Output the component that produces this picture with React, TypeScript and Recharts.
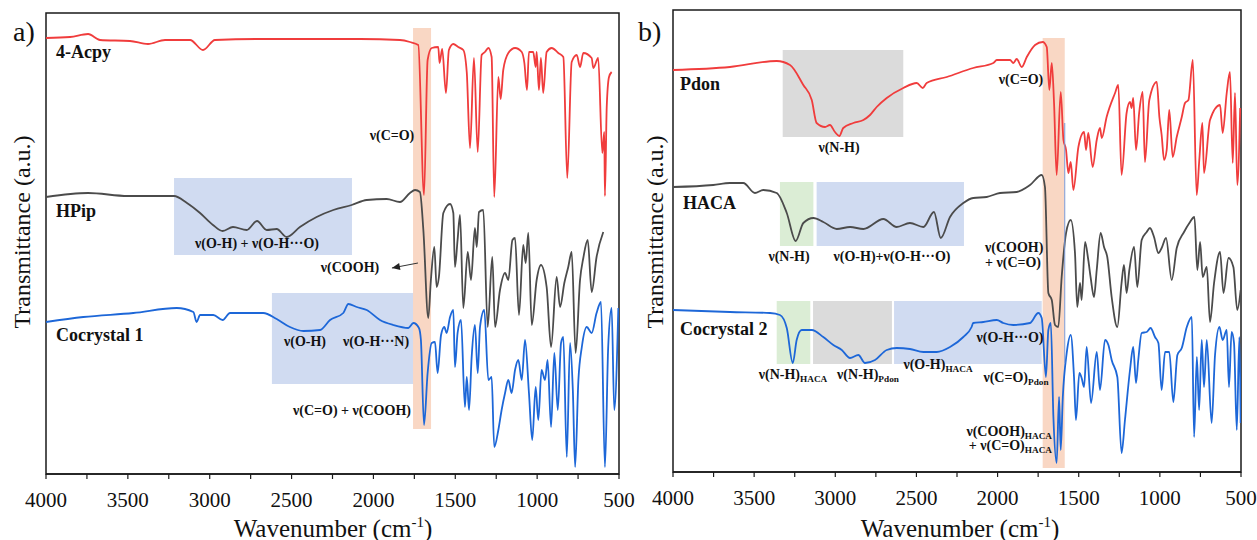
import React from 'react'
import { LineChart, Line, XAxis, YAxis, ReferenceArea, ReferenceLine } from 'recharts'

// [wavenumber (cm-1), transmittance (a.u.)]
const acpy: [number, number][] = [
  [4000, 436], [3853, 437], [3743, 440], [3670, 434], [3487, 433], [3377, 430], [3273, 434],
  [3120, 434], [3041, 424], [2968, 434], [2693, 435], [2387, 435], [2082, 435], [1838, 434],
  [1777, 432], [1726, 429], [1691, 279], [1669, 414], [1644, 426], [1604, 427], [1596, 411],
  [1580, 425], [1557, 381], [1539, 424], [1512, 430], [1482, 427], [1451, 424], [1430, 402],
  [1410, 326], [1386, 416], [1363, 322], [1339, 419], [1319, 422], [1298, 426], [1278, 417],
  [1262, 277], [1237, 397], [1223, 375], [1207, 404], [1176, 421], [1135, 426], [1094, 422],
  [1078, 411], [1062, 384], [1050, 422], [1024, 422], [1009, 407], [1003, 422], [989, 384],
  [977, 416], [963, 381], [942, 422], [911, 426], [871, 421], [840, 417], [816, 296], [789, 412],
  [758, 419], [738, 407], [718, 421], [667, 416], [657, 406], [627, 416], [602, 321], [590, 342],
  [586, 278], [575, 367], [561, 397], [545, 402],
]

const hpip: [number, number][] = [
  [4000, 277], [3743, 281], [3500, 278], [3218, 278], [3139, 271], [3059, 261], [2980, 249],
  [2921, 243], [2858, 247], [2774, 244], [2711, 253], [2652, 244], [2591, 245], [2530, 237],
  [2449, 247], [2347, 257], [2245, 264], [2133, 269], [2041, 274], [1919, 275], [1838, 272],
  [1777, 281], [1746, 284], [1716, 282], [1695, 244], [1665, 156], [1649, 194], [1628, 227],
  [1614, 187], [1600, 197], [1573, 261], [1532, 270], [1512, 261], [1502, 207], [1486, 234],
  [1471, 259], [1451, 166], [1424, 222], [1404, 194], [1380, 246], [1369, 227], [1355, 262],
  [1329, 264], [1302, 147], [1274, 217], [1257, 147], [1227, 184], [1196, 201], [1176, 194],
  [1151, 234], [1135, 236], [1111, 159], [1085, 229], [1070, 211], [1054, 241], [1033, 149],
  [1003, 194], [977, 209], [942, 187], [915, 127], [881, 197], [860, 167], [834, 191], [810, 207],
  [789, 222], [765, 121], [738, 194], [718, 216], [691, 234], [667, 182], [637, 217], [596, 242],
]

const cocrystal1: [number, number][] = [
  [4000, 152], [3772, 157], [3467, 161], [3202, 166], [3100, 162], [3080, 152], [3059, 159],
  [2978, 159], [2921, 154], [2876, 161], [2673, 161], [2591, 155], [2510, 147], [2428, 143],
  [2326, 144], [2265, 154], [2184, 161], [2153, 170], [2102, 167], [2041, 164], [1960, 154],
  [1879, 149], [1787, 146], [1756, 151], [1722, 146], [1710, 134], [1691, 49], [1669, 101],
  [1644, 131], [1624, 132], [1608, 101], [1587, 139], [1567, 147], [1553, 141], [1532, 157],
  [1512, 164], [1502, 107], [1486, 141], [1465, 154], [1441, 67], [1430, 97], [1416, 64],
  [1400, 117], [1380, 149], [1363, 101], [1349, 147], [1323, 164], [1298, 94], [1278, 97],
  [1262, 27], [1237, 44], [1217, 64], [1196, 81], [1176, 94], [1156, 81], [1135, 104], [1115, 114],
  [1094, 94], [1074, 134], [1050, 81], [1030, 34], [1009, 87], [993, 54], [973, 104], [952, 94],
  [936, 114], [915, 47], [895, 121], [874, 64], [854, 131], [840, 137], [819, 17], [799, 131],
  [782, 84], [768, 7], [748, 94], [727, 127], [697, 147], [667, 141], [637, 161], [610, 172],
  [586, 7], [566, 127], [545, 166], [529, 64], [504, 166],
]

const pdon: [number, number][] = [
  [4000, 402], [3649, 405], [3361, 411], [3279, 407], [3197, 387], [3145, 372], [3115, 349],
  [3063, 345], [3033, 347], [3002, 340], [2975, 336], [2951, 344], [2889, 349], [2827, 352],
  [2786, 357], [2745, 365], [2683, 374], [2581, 384], [2498, 389], [2461, 384], [2437, 389],
  [2313, 395], [2150, 404], [2026, 409], [2005, 412], [1923, 412], [1903, 409], [1882, 413],
  [1851, 405], [1820, 415], [1769, 427], [1722, 430], [1697, 425], [1681, 382], [1666, 409],
  [1652, 369], [1636, 297], [1611, 380], [1594, 332], [1578, 322], [1564, 299], [1549, 310],
  [1533, 282], [1502, 325], [1467, 340], [1455, 322], [1441, 339], [1414, 305], [1389, 332],
  [1369, 344], [1358, 334], [1328, 355], [1276, 379], [1256, 387], [1236, 297], [1205, 359],
  [1184, 370], [1174, 364], [1164, 374], [1147, 322], [1127, 360], [1106, 380], [1092, 310],
  [1065, 372], [1019, 390], [1003, 355], [989, 337], [974, 312], [958, 322], [942, 362],
  [921, 315], [896, 335], [865, 355], [845, 369], [824, 372], [797, 412], [773, 277], [757, 312],
  [738, 349], [728, 299], [691, 352], [629, 367], [613, 339], [588, 379], [568, 400], [551, 309],
  [537, 379], [523, 287], [505, 364],
]

const haca: [number, number][] = [
  [4000, 285], [3752, 287], [3649, 289], [3567, 289], [3495, 279], [3444, 282], [3361, 279],
  [3299, 259], [3244, 231], [3197, 249], [3135, 254], [3074, 250], [2991, 243], [2909, 245],
  [2827, 243], [2704, 253], [2622, 245], [2540, 249], [2457, 245], [2392, 260], [2350, 234],
  [2293, 255], [2211, 269], [2150, 274], [2067, 275], [1985, 279], [1882, 280], [1800, 287],
  [1728, 297], [1708, 285], [1687, 179], [1666, 172], [1646, 147], [1626, 145], [1605, 195],
  [1578, 239], [1549, 252], [1523, 219], [1509, 165], [1492, 189], [1482, 172], [1461, 230],
  [1441, 212], [1426, 194], [1406, 175], [1389, 202], [1365, 239], [1344, 225], [1324, 215],
  [1297, 175], [1262, 145], [1236, 189], [1221, 207], [1205, 179], [1188, 202], [1159, 225],
  [1139, 185], [1112, 232], [1081, 240], [1061, 244], [1036, 235], [1009, 219], [989, 224],
  [962, 234], [927, 192], [896, 224], [851, 240], [818, 249], [787, 255], [769, 202], [752, 230],
  [736, 195], [711, 205], [691, 150], [666, 189], [629, 220], [608, 179], [577, 214], [547, 205],
  [523, 162], [502, 182],
]

const cocrystal2: [number, number][] = [
  [4000, 162], [3649, 160], [3402, 159], [3341, 157], [3299, 144], [3262, 109], [3238, 132],
  [3207, 142], [3145, 142], [3074, 135], [3012, 127], [2960, 122], [2909, 114], [2858, 117],
  [2817, 109], [2755, 112], [2683, 122], [2622, 124], [2540, 123], [2457, 120], [2375, 120],
  [2293, 125], [2211, 135], [2160, 145], [2150, 149], [2088, 150], [2005, 152], [1965, 149],
  [1903, 147], [1800, 149], [1749, 159], [1728, 154], [1702, 95], [1687, 142], [1672, 149],
  [1656, 55], [1636, 9], [1621, 75], [1611, 22], [1598, 75], [1574, 119], [1549, 137], [1529, 95],
  [1517, 52], [1496, 99], [1482, 94], [1467, 85], [1451, 125], [1424, 69], [1389, 120], [1369, 82],
  [1338, 132], [1317, 127], [1297, 112], [1262, 95], [1236, 19], [1215, 52], [1184, 102],
  [1164, 125], [1147, 89], [1133, 112], [1112, 139], [1081, 140], [1057, 144], [1030, 135],
  [1009, 129], [989, 82], [968, 120], [942, 120], [917, 70], [892, 117], [865, 124], [834, 145],
  [803, 155], [789, 35], [772, 115], [758, 62], [742, 132], [728, 85], [711, 132], [681, 49],
  [660, 117], [633, 145], [613, 132], [588, 142], [574, 85], [558, 140], [543, 129], [526, 42],
  [510, 135], [502, 49],
]

const xTicks = [4000, 3750, 3500, 3250, 3000, 2750, 2500, 2250, 2000, 1750, 1500, 1250, 1000, 750, 500]

// shaded regions: [x1, x2, y1, y2, colour]
const boxesA: [number, number, number, number, string][] = [
  [3218, 2131, 219, 296, 'blue'],
  [2620, 1758, 90, 181, 'blue'],
  [1758, 1648, 45, 446, 'orange'],
]
const boxesB: [number, number, number, number, string][] = [
  [3324, 2581, 335, 422, 'grey'],
  [3341, 3135, 226, 290, 'green'],
  [3115, 2207, 226, 290, 'blue'],
  [3361, 3154, 108, 171, 'green'],
  [3137, 2651, 108, 171, 'grey'],
  [2638, 1728, 108, 171, 'blue'],
  [1722, 1586, 4, 434, 'orange'],
]

const FILL: Record<string, [string, number]> = {
  blue: ['#8fa9dd', 0.42],
  grey: ['#b0b0b0', 0.45],
  green: ['#a9d49a', 0.42],
  orange: ['#f3b08a', 0.5],
}

const RED = '#f03c3c'
const GREY = '#4b4b4b'
const BLUE = '#1d67d8'
const SERIF = '"Liberation Serif", "Times New Roman", serif'

const toPts = (arr: [number, number][]) => arr.map(([w, t]) => ({ w, t }))

const Arrow = (p: any) => {
  const { x1, y1, x2, y2 } = p
  const ang = Math.atan2(y1 - y2, x1 - x2)
  const L = 8
  const W = 3.5
  const bx = x1 - L * Math.cos(ang)
  const by = y1 - L * Math.sin(ang)
  const ox = -Math.sin(ang) * W
  const oy = Math.cos(ang) * W
  return (
    <g>
      <line x1={x1} y1={y1} x2={x2} y2={y2} stroke="#333" strokeWidth={1} />
      <polygon points={`${x1},${y1} ${bx + ox},${by + oy} ${bx - ox},${by - oy}`} fill="#222" />
    </g>
  )
}

type PanelProps = {
  left: number
  width: number
  margin: { top: number; right: number; bottom: number; left: number }
  yMax: number
  series: { pts: [number, number][]; color: string }[]
  boxes: [number, number, number, number, string][]
  extra?: React.ReactNode
}

function Panel({ left, width, margin, yMax, series, boxes, extra }: PanelProps) {
  return (
    <div style={{ position: 'absolute', left, top: 0 }}>
      <LineChart width={width} height={540} margin={margin}>
        <XAxis
          dataKey="w"
          type="number"
          domain={[500, 4000]}
          reversed
          allowDataOverflow
          ticks={xTicks}
          interval={0}
          height={40}
          tickSize={5}
          tickMargin={13}
          tickFormatter={(v: number) => (v % 500 === 0 ? String(v) : '')}
          tick={{ fontSize: 21, fill: '#111', fontFamily: SERIF }}
          axisLine={{ stroke: '#1a1a1a', strokeWidth: 1.5 }}
          tickLine={{ stroke: '#1a1a1a', strokeWidth: 1.2 }}
        />
        <YAxis hide type="number" domain={[0, yMax]} allowDataOverflow />
        {series.map((s, i) => (
          <Line
            key={i}
            data={toPts(s.pts)}
            dataKey="t"
            type="monotoneX"
            stroke={s.color}
            strokeWidth={1.8}
            dot={false}
            activeDot={false}
            isAnimationActive={false}
          />
        ))}
        {boxes.map(([x1, x2, y1, y2, c], i) => (
          <ReferenceArea
            key={'b' + i}
            x1={x1}
            x2={x2}
            y1={y1}
            y2={y2}
            fill={FILL[c][0]}
            fillOpacity={FILL[c][1]}
            stroke="none"
            ifOverflow="visible"
          />
        ))}
        {extra}
        <ReferenceArea
          x1={500}
          x2={4000}
          y1={0}
          y2={yMax}
          fill="none"
          stroke="#1a1a1a"
          strokeWidth={1.5}
          ifOverflow="visible"
        />
      </LineChart>
    </div>
  )
}

type NoteProps = {
  x: number
  y: number
  align?: 'left' | 'center' | 'right'
  size?: number
  bold?: boolean
  children: React.ReactNode
}

function Note({ x, y, align = 'center', size = 14, bold = true, children }: NoteProps) {
  const tx = align === 'left' ? '0' : align === 'right' ? '-100%' : '-50%'
  return (
    <span
      style={{
        position: 'absolute',
        left: x,
        top: y,
        transform: `translate(${tx}, -50%)`,
        fontFamily: SERIF,
        fontSize: size,
        fontWeight: bold ? 700 : 400,
        lineHeight: 1,
        whiteSpace: 'nowrap',
        color: '#111',
      }}
    >
      {children}
    </span>
  )
}

const Sub = ({ children }: { children: React.ReactNode }) => (
  <sub style={{ fontSize: '0.66em', verticalAlign: '-0.3em', lineHeight: 0 }}>{children}</sub>
)

const AxisTitleY = ({ x }: { x: number }) => (
  <span
    style={{
      position: 'absolute',
      left: x,
      top: 232,
      transform: 'translate(-50%, -50%) rotate(-90deg)',
      fontFamily: SERIF,
      fontSize: 24,
      lineHeight: 1,
      whiteSpace: 'nowrap',
      color: '#111',
    }}
  >
    Transmittance (a.u.)
  </span>
)

const AxisTitleX = ({ x }: { x: number }) => (
  <span
    style={{
      position: 'absolute',
      left: x,
      top: 528,
      transform: 'translate(-50%, -50%)',
      fontFamily: SERIF,
      fontSize: 25,
      lineHeight: 1,
      whiteSpace: 'nowrap',
      color: '#111',
    }}
  >
    Wavenumber (cm<sup style={{ fontSize: '0.6em', lineHeight: 0 }}>-1</sup>)
  </span>
)

export default function App() {
  return (
    <div style={{ position: 'relative', width: 1257, height: 540, background: '#fff' }}>
      <style>{'body { margin: 0; }'}</style>
      <Panel
        left={0}
        width={640}
        margin={{ top: 13, right: 21, bottom: 26, left: 46 }}
        yMax={461}
        series={[
          { pts: acpy, color: RED },
          { pts: hpip, color: GREY },
          { pts: cocrystal1, color: BLUE },
        ]}
        boxes={boxesA}
        extra={
          <ReferenceLine
            segment={[{ x: 1887, y: 206 }, { x: 1728, y: 211 }]}
            stroke="#333"
            shape={Arrow}
            ifOverflow="visible"
          />
        }
      />
      <Panel
        left={627}
        width={630}
        margin={{ top: 10, right: 16, bottom: 28, left: 46 }}
        yMax={462}
        series={[
          { pts: pdon, color: RED },
          { pts: haca, color: GREY },
          { pts: cocrystal2, color: BLUE },
        ]}
        boxes={boxesB}
        extra={
          <ReferenceLine
            segment={[{ x: 1586, y: 349 }, { x: 1586, y: 109 }]}
            stroke="#7a9ad8"
            strokeWidth={1}
            ifOverflow="visible"
          />
        }
      />

      {/* panel a texts */}
      <Note x={13} y={32} align="left" size={28} bold={false}>a)</Note>
      <Note x={56} y={52} align="left" size={18}>4-Acpy</Note>
      <Note x={392} y={136}>ν(C=O)</Note>
      <Note x={56} y={211} align="left" size={18}>HPip</Note>
      <Note x={257} y={244}>ν(O-H) + ν(O-H···O)</Note>
      <Note x={350} y={268}>ν(COOH)</Note>
      <Note x={56} y={335} align="left" size={18}>Cocrystal 1</Note>
      <Note x={305} y={342}>ν(O-H)</Note>
      <Note x={376} y={342}>ν(O-H···N)</Note>
      <Note x={352} y={411}>ν(C=O) + ν(COOH)</Note>
      <AxisTitleY x={22} />
      <AxisTitleX x={333} />

      {/* panel b texts */}
      <Note x={638} y={32} align="left" size={28} bold={false}>b)</Note>
      <Note x={680} y={84} align="left" size={18}>Pdon</Note>
      <Note x={839} y={148}>ν(N-H)</Note>
      <Note x={1021} y={80}>ν(C=O)</Note>
      <Note x={683} y={203} align="left" size={18}>HACA</Note>
      <Note x={789} y={257}>ν(N-H)</Note>
      <Note x={892} y={257}>ν(O-H)+ν(O-H···O)</Note>
      <Note x={985} y={248} align="left">ν(COOH)</Note>
      <Note x={985} y={263} align="left">+ ν(C=O)</Note>
      <Note x={680} y={329} align="left" size={18}>Cocrystal 2</Note>
      <Note x={793} y={375}>ν(N-H)<Sub>HACA</Sub></Note>
      <Note x={868} y={375}>ν(N-H)<Sub>Pdon</Sub></Note>
      <Note x={938} y={365}>ν(O-H)<Sub>HACA</Sub></Note>
      <Note x={1010} y={338}>ν(O-H···O)</Note>
      <Note x={1016} y={378}>ν(C=O)<Sub>Pdon</Sub></Note>
      <Note x={1052} y={432} align="right">ν(COOH)<Sub>HACA</Sub></Note>
      <Note x={1052} y={446} align="right">+ ν(C=O)<Sub>HACA</Sub></Note>
      <AxisTitleY x={655} />
      <AxisTitleX x={960} />
    </div>
  )
}
